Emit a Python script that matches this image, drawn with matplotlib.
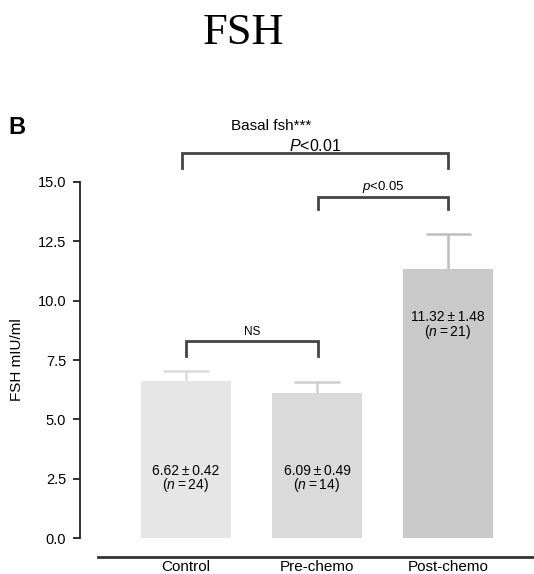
import matplotlib
matplotlib.use("Agg")
import matplotlib.pyplot as plt

groups = ["Control", "Pre-chemo", "Post-chemo"]
means = [6.62, 6.09, 11.32]
sems = [0.42, 0.49, 1.48]
counts = [24, 14, 21]
bar_colors = ["#e6e6e6", "#dadada", "#c9c9c9"]
err_colors = ["#dcdcdc", "#cfcfcf", "#bdbdbd"]
yticks = [0.0, 2.5, 5.0, 7.5, 10.0, 12.5, 15.0]

plt.rcParams["font.family"] = ["Liberation Sans", "DejaVu Sans"]
plt.rcParams["mathtext.fontset"] = "custom"
plt.rcParams["mathtext.it"] = "Liberation Sans:italic"
plt.rcParams["mathtext.rm"] = "Liberation Sans"

W, H = 534, 574
fig = plt.figure(figsize=(W / 100, H / 100), dpi=100)
# axes placed in pixel terms: left spine x=80, y=0 at 538 px, y=15 at 182 px
ax = fig.add_axes([80 / W, (H - 538) / H, (W - 80) / W, (538 - 182) / H])
ax.set_ylim(0, 15)
ax.set_xlim(-0.809, 2.656)
ax.patch.set_alpha(0)

x = list(range(len(groups)))
ax.bar(x, means, width=0.68, color=bar_colors, edgecolor="none", zorder=2)
for i in x:
    top = means[i] + sems[i]
    # upper-only error bar
    ax.vlines(i, means[i], top, color=err_colors[i], lw=1.8, zorder=1)
    ax.hlines(top, i - 0.172, i + 0.172, color=err_colors[i], lw=1.8, zorder=1)
    lab1 = f"{means[i]:.2f}\u2009\u00b1\u2009{sems[i]:.2f}"
    lab2 = f"($n$\u2009=\u2009{counts[i]})"
    if i < 2:
        ax.text(i, 2.84, lab1, ha="center", va="center", fontsize=10)
        ax.text(i, 2.22, lab2, ha="center", va="center", fontsize=10)
    else:
        ax.text(i, 9.33, lab1, ha="center", va="center", fontsize=10)
        ax.text(i, 8.70, lab2, ha="center", va="center", fontsize=10)


def bracket(x0, x1, ytop, ybot, label, ty, size):
    ax.plot([x0, x0, x1, x1], [ybot, ytop, ytop, ybot], color="#444444", lw=2,
            solid_joinstyle="miter", clip_on=False, zorder=3)
    ax.text((x0 + x1) / 2, ty, label, ha="center", va="center", fontsize=size, clip_on=False)


bracket(0, 1.007, 8.31, 7.67, "NS", 8.66, 8.5)
bracket(1.007, 2.0, 14.38, 13.87, "$p$<0.05", 14.80, 9.5)
bracket(-0.03, 2.0, 16.24, 15.6, "$P$<0.01", 16.52, 11.5)
ax.text(0.65, 17.37, "Basal fsh***", ha="center", va="center", fontsize=11, clip_on=False)

ax.spines["top"].set_visible(False)
ax.spines["right"].set_visible(False)
ax.spines["left"].set_linewidth(1.3)
ax.spines["left"].set_color("#222222")
ax.spines["bottom"].set_position(("outward", 14))
ax.spines["bottom"].set_bounds(-0.672, 2.656)
ax.spines["bottom"].set_linewidth(2)
ax.spines["bottom"].set_color("#333333")

ax.set_yticks(yticks)
ax.set_yticklabels([f"{t:.1f}" for t in yticks], fontsize=10.5)
ax.tick_params(axis="y", length=5, width=1.3, color="#222222", pad=5)
ax.set_xticks(x)
ax.set_xticklabels(groups, fontsize=11)
ax.tick_params(axis="x", length=0, pad=2)
ax.set_ylabel("FSH mIU/ml", fontsize=11, labelpad=10)

fig.text(243 / W, 1 - 33 / H, "FSH", ha="center", va="center", fontsize=32,
         family=["Liberation Serif", "DejaVu Serif"])
fig.text(17 / W, 1 - 127 / H, "B", ha="center", va="center", fontsize=17, fontweight="bold")

fig.savefig("out.png", dpi=100)
